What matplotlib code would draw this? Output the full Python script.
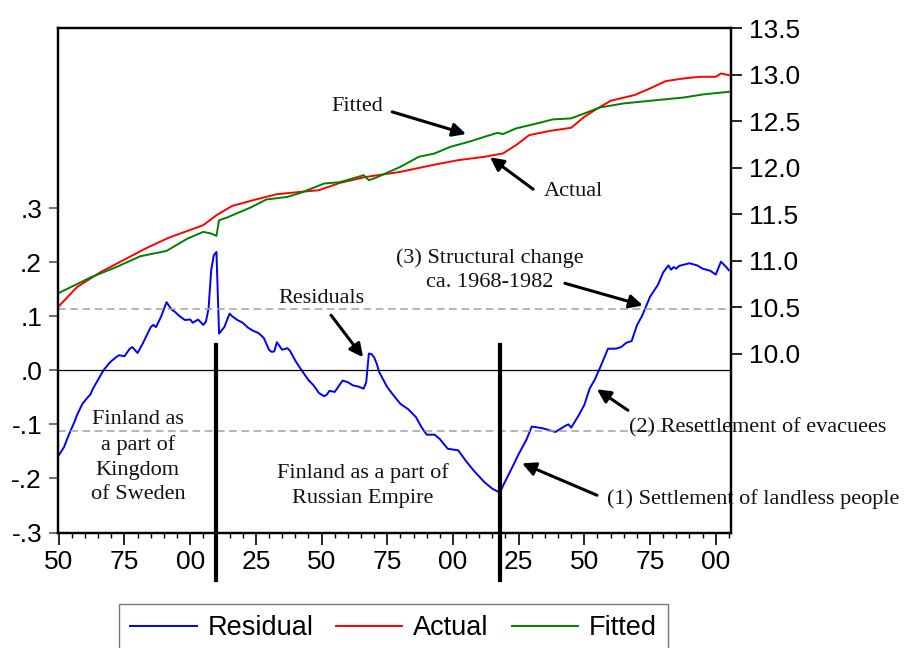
import numpy as np
import matplotlib
matplotlib.use("Agg")
import matplotlib.pyplot as plt
from matplotlib.ticker import MultipleLocator

# residual series (left axis)
resid_years = [1750, 1752, 1754, 1756, 1757, 1759, 1761, 1762, 1763, 1765,
               1767, 1769, 1770, 1772, 1773, 1775, 1777, 1778, 1780, 1782,
               1784, 1785, 1786, 1787, 1789, 1791, 1793, 1794, 1796, 1798,
               1800, 1801, 1803, 1805, 1806, 1807, 1808, 1809, 1810, 1811,
               1813, 1815, 1816, 1818, 1820, 1822, 1824, 1826, 1828, 1830,
               1831, 1832, 1833, 1835, 1837, 1838, 1840, 1842, 1844, 1845,
               1847, 1849, 1851, 1852, 1853, 1855, 1858, 1860, 1862, 1864,
               1866, 1867, 1868, 1869, 1870, 1871, 1872, 1875, 1877, 1880,
               1883, 1886, 1888, 1890, 1893, 1895, 1898, 1902, 1905, 1908,
               1912, 1915, 1917, 1918, 1919, 1922, 1925, 1928, 1930, 1934,
               1939, 1941, 1943, 1944, 1945, 1948, 1950, 1952, 1954, 1956,
               1959, 1962, 1964, 1966, 1968, 1970, 1972, 1975, 1978, 1980,
               1982, 1983, 1984, 1985, 1986, 1990, 1993, 1995, 1998, 2000,
               2002, 2004, 2005]
resid_vals = [-0.157, -0.142, -0.117, -0.095, -0.082, -0.062, -0.050, -0.045, -0.034, -0.017,
              0.000, 0.012, 0.017, 0.025, 0.028, 0.026, 0.040, 0.043, 0.032, 0.050,
              0.070, 0.080, 0.084, 0.080, 0.100, 0.126, 0.112, 0.109, 0.100, 0.093,
              0.094, 0.088, 0.094, 0.084, 0.090, 0.114, 0.185, 0.213, 0.219, 0.068,
              0.080, 0.105, 0.100, 0.093, 0.088, 0.079, 0.073, 0.069, 0.060, 0.038,
              0.034, 0.035, 0.052, 0.038, 0.041, 0.036, 0.018, 0.003, -0.011, -0.018,
              -0.028, -0.042, -0.048, -0.045, -0.038, -0.040, -0.019, -0.022, -0.028, -0.030,
              -0.034, -0.022, 0.031, 0.030, 0.024, 0.012, -0.004, -0.031, -0.044, -0.062,
              -0.072, -0.087, -0.105, -0.119, -0.119, -0.127, -0.145, -0.148, -0.168, -0.186,
              -0.207, -0.219, -0.224, -0.226, -0.214, -0.185, -0.155, -0.128, -0.104, -0.107,
              -0.114, -0.108, -0.102, -0.100, -0.106, -0.082, -0.064, -0.034, -0.017, 0.005,
              0.040, 0.040, 0.043, 0.051, 0.054, 0.083, 0.101, 0.136, 0.158, 0.181,
              0.194, 0.186, 0.191, 0.188, 0.193, 0.198, 0.194, 0.188, 0.184, 0.177,
              0.201, 0.191, 0.185]

# actual and fitted (right axis)
actual_years = [1750, 1757, 1766, 1775, 1783, 1792, 1805, 1810, 1816, 1824,
                1833, 1842, 1849, 1857, 1867, 1880, 1892, 1902, 1912, 1919,
                1924, 1929, 1937, 1945, 1950, 1955, 1960, 1969, 1975, 1981,
                1988, 1994, 2000, 2002, 2005]
actual_vals = [10.509, 10.717, 10.878, 11.011, 11.130, 11.248, 11.381, 11.488, 11.588, 11.650,
               11.714, 11.739, 11.757, 11.836, 11.900, 11.954, 12.026, 12.080, 12.116, 12.152,
               12.241, 12.349, 12.395, 12.428, 12.546, 12.636, 12.718, 12.779, 12.851, 12.930,
               12.959, 12.976, 12.976, 13.012, 12.994]

fitted_years = [1750, 1762, 1772, 1781, 1791, 1799, 1805, 1808, 1810, 1811,
                1814, 1823, 1829, 1837, 1842, 1851, 1857, 1866, 1868, 1870,
                1880, 1887, 1893, 1899, 1906, 1912, 1917, 1919, 1924, 1932,
                1938, 1945, 1950, 1956, 1965, 1975, 1988, 1995, 2005]
fitted_vals = [10.652, 10.818, 10.932, 11.047, 11.104, 11.237, 11.309, 11.291, 11.266, 11.434,
               11.463, 11.571, 11.657, 11.685, 11.728, 11.829, 11.843, 11.918, 11.865, 11.883,
               12.008, 12.116, 12.152, 12.223, 12.277, 12.331, 12.374, 12.360, 12.421, 12.475,
               12.518, 12.529, 12.582, 12.647, 12.690, 12.718, 12.754, 12.786, 12.815]

se_band = 0.113
breaks = [1810, 1918]

sans = "Liberation Sans"
serif = "Liberation Serif"

fig = plt.figure(figsize=(9.06, 6.48), dpi=100)
ax = fig.add_axes([0.0640, 0.1782, 0.7428, 0.7785])
ax2 = ax.twinx()

# residual on the left scale
l_res, = ax.plot(resid_years, resid_vals, color="#0000ff", lw=1.4, label="Residual")
ax.axhline(0, color="k", lw=0.9)
for v in (se_band, -se_band):
    ax.axhline(v, color="#a0a0a0", lw=1.1, ls=(0, (5, 3)))

ax.set_xlim(1749.7, 2005.8)
ax.set_ylim(-0.3, 0.633)
ax.set_yticks([-0.3, -0.2, -0.1, 0.0, 0.1, 0.2, 0.3])
ax.set_yticklabels(["-.3", "-.2", "-.1", ".0", ".1", ".2", ".3"])
ax.set_xticks(np.arange(1750, 2001, 25))
ax.set_xticklabels([f"{y % 100:02d}" for y in range(1750, 2001, 25)])
ax.xaxis.set_minor_locator(MultipleLocator(5))

# actual / fitted on the right scale
l_act, = ax2.plot(actual_years, actual_vals, color="#ff0000", lw=1.4, label="Actual")
l_fit, = ax2.plot(fitted_years, fitted_vals, color="#008000", lw=1.4, label="Fitted")
ax2.set_ylim(8.077, 13.5)
ax2.set_yticks(np.arange(10.0, 13.51, 0.5))
ax2.set_yticklabels([f"{v:.1f}" for v in np.arange(10.0, 13.51, 0.5)])

for a in (ax, ax2):
    for s in a.spines.values():
        s.set_linewidth(1.6)
        s.set_color("k")

ax.tick_params(axis="y", direction="out", length=6.5, width=1.2, color="#555555",
               pad=5, labelsize=19)
ax.tick_params(axis="x", which="major", direction="out", length=8.6, width=1.2,
               pad=4, labelsize=19)
ax.tick_params(axis="x", which="minor", direction="out", length=3.8, width=1.0)
ax2.tick_params(axis="y", direction="out", length=8, width=1.2, pad=5, labelsize=19)
for lab in ax.get_xticklabels() + ax.get_yticklabels() + ax2.get_yticklabels():
    lab.set_fontfamily(sans)

# political break years
for yr in breaks:
    ax.axvline(yr, ymin=-0.094, ymax=0.372, color="k", lw=3, clip_on=False, zorder=5)

txt = dict(family=serif, fontsize=16, color="#111111")
arrow = dict(arrowstyle="-|>", color="k", lw=2.2, mutation_scale=20,
             shrinkA=0, shrinkB=0)

ax.text(1863.6, 0.487, "Fitted", ha="center", va="center", **txt)
ax.annotate("", xy=(1905.0, 0.437), xytext=(1876.9, 0.478), arrowprops=arrow)

ax.text(1945.7, 0.331, "Actual", ha="center", va="center", **txt)
ax.annotate("", xy=(1914.1, 0.394), xytext=(1930.5, 0.335), arrowprops=arrow)

ax.text(1914.1, 0.185, "(3) Structural change\nca. 1968-1982", ha="center",
        va="center", linespacing=1.4, **txt)
ax.annotate("", xy=(1972.3, 0.120), xytext=(1942.6, 0.161), arrowprops=arrow)

ax.text(1849.9, 0.133, "Residuals", ha="center", va="center", **txt)
ax.annotate("", xy=(1865.8, 0.024), xytext=(1853.6, 0.102), arrowprops=arrow)

ax.text(1780.1, -0.161, "Finland as\na part of\nKingdom\nof Sweden", ha="center",
        va="center", linespacing=1.4, **txt)
ax.text(1865.8, -0.213, "Finland as a part of\nRussian Empire", ha="center",
        va="center", linespacing=1.4, **txt)

ax.text(1967.0, -0.107, "(2) Resettlement of evacuees", ha="left", va="center", **txt)
ax.annotate("", xy=(1954.8, -0.035), xytext=(1966.6, -0.074), arrowprops=arrow)

ax.text(1958.6, -0.239, "(1) Settlement of landless people", ha="left",
        va="center", **txt)
ax.annotate("", xy=(1926.3, -0.172), xytext=(1954.8, -0.231), arrowprops=arrow)

leg = fig.legend(handles=[l_res, l_act, l_fit], loc="upper left",
                 bbox_to_anchor=(0.1317, 0.0675), ncol=3, frameon=True,
                 fancybox=False, borderaxespad=0, handlelength=2.45,
                 handletextpad=0.4, columnspacing=0.84, borderpad=0.4,
                 prop={"family": sans, "size": 19.5})
leg.get_frame().set_edgecolor("#555555")
leg.get_frame().set_linewidth(1.0)

fig.savefig("out.png", dpi=100)
